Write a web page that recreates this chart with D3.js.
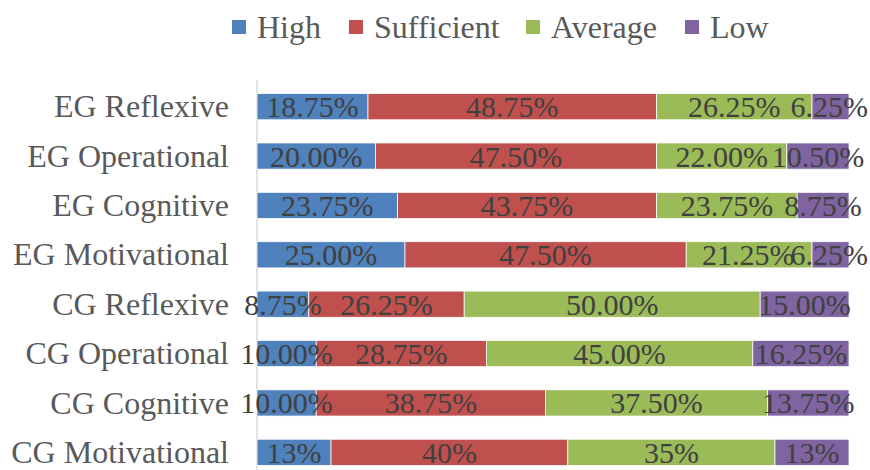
<!DOCTYPE html>
<html><head><meta charset="utf-8">
<script src="https://cdn.jsdelivr.net/npm/d3@7"></script>
<style>body{margin:0;background:#fff} text{font-family:"Liberation Serif";}</style>
</head><body>
<svg id="chart" width="870" height="470"></svg>
<script>
const categories = ["EG Reflexive","EG Operational","EG Cognitive","EG Motivational","CG Reflexive","CG Operational","CG Cognitive","CG Motivational"];
const seriesNames = ["High","Sufficient","Average","Low"];
const high       = [18.75, 20.00, 23.75, 25.00,  8.75, 10.00, 10.00, 12.5];
const sufficient = [48.75, 47.50, 43.75, 47.50, 26.25, 28.75, 38.75, 40];
const average    = [26.25, 22.00, 23.75, 21.25, 50.00, 45.00, 37.50, 35];
const low        = [ 6.25, 10.50,  8.75,  6.25, 15.00, 16.25, 13.75, 12.5];
const labelDecimals = [2,2,2,2,2,2,2,0];
const colors = ["#4F81BD","#C0504D","#9BBB59","#8064A2"];

const svg = d3.select("#chart");
const font = "Liberation Serif";
const margin = {left:257, right:21, top:82, bottom:-7};
const W = 870, H = 470;

const data = categories.map((c,i)=>({cat:c, High:high[i], Sufficient:sufficient[i], Average:average[i], Low:low[i], dec:labelDecimals[i]}));
const stack = d3.stack().keys(seriesNames)(data);

const x = d3.scaleLinear().domain([0,100]).range([margin.left, W - margin.right]);
const y = d3.scaleBand().domain(categories).range([margin.top, H - margin.bottom]).paddingInner(0.47).paddingOuter(0.235);
const color = d3.scaleOrdinal().domain(seriesNames).range(colors);

// axis line
svg.append("line").attr("x1",x(0)).attr("x2",x(0)).attr("y1",80).attr("y2",H)
  .attr("stroke","#d9d9d9").attr("stroke-width",1.5);

// bars
const g = svg.append("g");
stack.forEach(layer=>{
  g.selectAll(null).data(layer).enter().append("rect")
    .attr("x",d=>x(d[0])).attr("width",d=>x(d[1])-x(d[0]))
    .attr("y",d=>y(d.data.cat)).attr("height",y.bandwidth())
    .attr("fill",color(layer.key)).attr("stroke","#fff").attr("stroke-width",0.75);
});
// labels
const labelNodes = categories.map(()=>[]);
stack.forEach((layer,li)=>{
  g.selectAll(null).data(layer).enter().append("text")
    .attr("x",d=>(x(d[0])+x(d[1]))/2)
    .attr("y",d=>y(d.data.cat)+y.bandwidth()/2)
    .attr("dy","0.35em").attr("text-anchor","middle")
    .style("font-family",font).style("font-size","30px").attr("fill","#404040")
    .text(d=>(d[1]-d[0]).toFixed(d.data.dec)+"%")
    .each(function(d,i){ labelNodes[i][li] = {node:this, cx:(x(d[0])+x(d[1]))/2}; });
});
// keep labels inside the picture and avoid piling up (right to left)
labelNodes.forEach(row=>{
  let maxRight = W - 2;
  for (let k=row.length-1;k>=0;k--){
    const w = row[k].node.getComputedTextLength();
    let right = Math.min(row[k].cx + w/2, maxRight);
    d3.select(row[k].node).attr("x", right - w/2);
    maxRight = right - w + 4;
  }
});

// y axis labels
const yAxis = d3.axisLeft(y).tickSize(0).tickPadding(28);
const ya = svg.append("g").attr("transform",`translate(${x(0)},0)`).call(yAxis).attr("font-family",null);
ya.select(".domain").remove();
ya.selectAll("text").style("font-family",font).style("font-size","32px").attr("fill","#595959").attr("dy","0.33em");

// legend
const legendX = [232, 349, 526, 685];
const lg = svg.append("g");
seriesNames.forEach((s,i)=>{
  lg.append("rect").attr("x",legendX[i]).attr("y",20).attr("width",14).attr("height",14).attr("fill",colors[i]);
  lg.append("text").attr("x",legendX[i]+25).attr("y",27).attr("dy","0.35em")
    .style("font-family",font).style("font-size","32px").attr("fill","#595959").text(s);
});
</script>
</body></html>
